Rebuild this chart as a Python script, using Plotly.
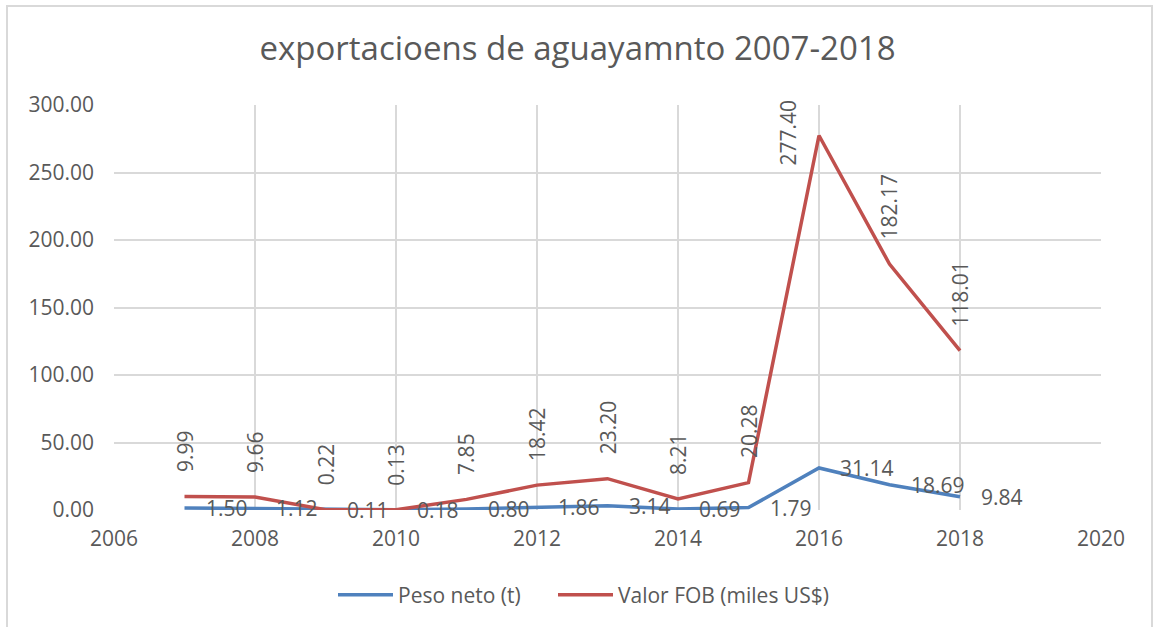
import plotly.graph_objects as go

years = [2007, 2008, 2009, 2010, 2011, 2012, 2013, 2014, 2015, 2016, 2017, 2018]
peso_neto = [1.50, 1.12, 0.11, 0.18, 0.80, 1.86, 3.14, 0.69, 1.79, 31.14, 18.69, 9.84]
valor_fob = [9.99, 9.66, 0.22, 0.13, 7.85, 18.42, 23.20, 8.21, 20.28, 277.40, 182.17, 118.01]
title_text = "exportacioens de aguayamnto 2007-2018"
name_peso = "Peso neto (t)"
name_fob = "Valor FOB (miles US$)"

FONT = "Open Sans"
TXT = "#595959"
BLUE = "#4F81BD"
RED = "#C0504D"
GRID = "#D9D9D9"

fig = go.Figure()
fig.add_trace(go.Scatter(x=years, y=peso_neto, mode="lines", name=name_peso,
                         line=dict(color=BLUE, width=3.5), hoverinfo="skip",
                         legend="legend"))
fig.add_trace(go.Scatter(x=years, y=valor_fob, mode="lines", name=name_fob,
                         line=dict(color=RED, width=3.5), hoverinfo="skip",
                         legend="legend2"))

annotations = []
for x, v in zip(years, peso_neto):
    annotations.append(dict(x=x, y=v, xref="x", yref="y", text=f"{v:.2f}",
                            showarrow=False, xanchor="left", yanchor="middle",
                            xshift=19, font=dict(family=FONT, size=21, color=TXT)))
ymax = 300
for x, v in zip(years, valor_fob):
    if v > 0.8 * ymax:
        annotations.append(dict(x=x, y=v, xref="x", yref="y", text=f"{v:.2f}",
                                showarrow=False, textangle=-90, xanchor="right",
                                yanchor="middle", xshift=-15, yshift=3,
                                font=dict(family=FONT, size=21, color=TXT)))
    else:
        annotations.append(dict(x=x, y=v, xref="x", yref="y", text=f"{v:.2f}",
                                showarrow=False, textangle=-90, xanchor="center",
                                yanchor="bottom", yshift=22,
                                font=dict(family=FONT, size=21, color=TXT)))

legend_style = dict(orientation="h", xanchor="left", y=-0.21, yanchor="middle",
                    font=dict(family=FONT, size=21, color=TXT), itemwidth=55,
                    bgcolor="rgba(0,0,0,0)")

fig.update_layout(
    width=1155, height=627,
    margin=dict(l=114, r=54, t=105, b=117),
    paper_bgcolor="white", plot_bgcolor="white",
    title=dict(text=title_text, x=0.5, xanchor="center", xref="container",
               y=1 - 48 / 627, yanchor="middle",
               font=dict(family=FONT, size=33, color=TXT)),
    font=dict(family=FONT, size=21, color=TXT),
    xaxis=dict(range=[2006, 2020], dtick=2, tick0=2006, showgrid=True, gridcolor=GRID,
               gridwidth=1.5, zeroline=False, showline=False, ticks="", automargin=False,
               ticklabelstandoff=14, tickfont=dict(family=FONT, size=21, color=TXT)),
    yaxis=dict(range=[0, 300], dtick=50, tickformat=".2f", showgrid=True, gridcolor=GRID,
               gridwidth=1.5, zeroline=False, showline=False, ticks="", automargin=False,
               ticklabelstandoff=19, tickfont=dict(family=FONT, size=21, color=TXT)),
    showlegend=True,
    legend=dict(x=(333 - 114) / 987, **legend_style),
    legend2=dict(x=(553 - 114) / 987, **legend_style),
    annotations=annotations,
    shapes=[dict(type="rect", xref="paper", yref="paper",
                 x0=-107 / 987, x1=1038 / 987, y0=-0.35, y1=1 + 99 / 405,
                 line=dict(color="#D9D9D9", width=2), fillcolor="rgba(0,0,0,0)",
                 layer="below")],
)

fig.write_html("out.html", config={"displayModeBar": False},
               post_script="document.body.style.margin='0';")
